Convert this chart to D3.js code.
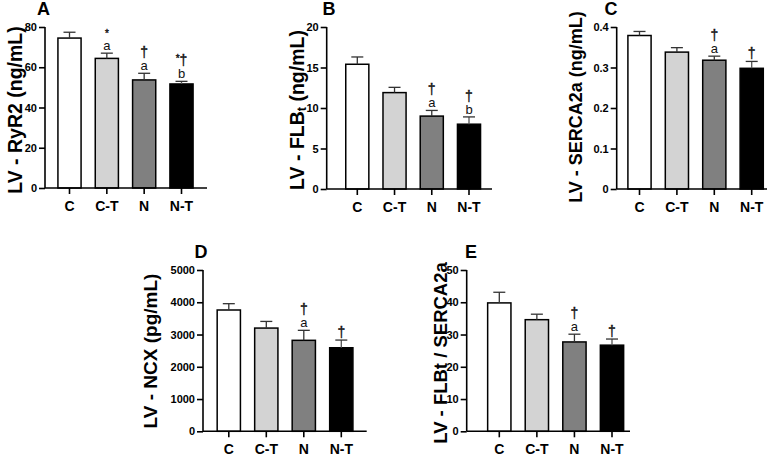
<!DOCTYPE html>
<html>
<head>
<meta charset="utf-8">
<script src="https://cdn.jsdelivr.net/npm/d3@7/dist/d3.min.js"></script>
<style>
html,body{margin:0;padding:0;background:#fff;}
svg{display:block;font-family:"Liberation Sans",Arial,Helvetica,sans-serif;}
</style>
</head>
<body>
<svg id="chart" width="779" height="456"></svg>
<script>
// ---------- data ----------
const categories = ["C", "C-T", "N", "N-T"];
const barColors = ["#ffffff", "#d3d3d3", "#808080", "#000000"];

const ryr2Mean = [74.5, 64.4, 53.7, 51.7];
const ryr2Err = [2.9, 2.6, 3.3, 1.3];
const ryr2Ticks = [0, 20, 40, 60, 80];
const ryr2Letters = ["", "a", "a", "b"];
const ryr2Marks = ["", "*", "†", "*†"];

const flbMean = [15.4, 11.9, 9.0, 8.0];
const flbErr = [0.9, 0.65, 0.7, 0.9];
const flbTicks = [0, 5, 10, 15, 20];
const flbLetters = ["", "", "a", "b"];
const flbMarks = ["", "", "†", "†"];

const sercaMean = [0.379, 0.338, 0.318, 0.298];
const sercaErr = [0.010, 0.011, 0.010, 0.017];
const sercaTicks = [0, 0.1, 0.2, 0.3, 0.4];
const sercaTickLabels = ["0", "0.1", "0.2", "0.3", "0.4"];
const sercaLetters = ["", "", "a", ""];
const sercaMarks = ["", "", "†", "†"];

const ncxMean = [3760, 3200, 2820, 2590];
const ncxErr = [196, 206, 310, 238];
const ncxTicks = [0, 1000, 2000, 3000, 4000, 5000];
const ncxLetters = ["", "", "a", ""];
const ncxMarks = ["", "", "†", "†"];

const ratioMean = [39.8, 34.6, 27.7, 26.7];
const ratioErr = [3.3, 1.7, 2.4, 1.9];
const ratioTicks = [0, 10, 20, 30, 40, 50];
const ratioLetters = ["", "", "a", ""];
const ratioMarks = ["", "", "†", "†"];

// ---------- layout ----------
const panels = [
  {letter:"A", mean:ryr2Mean, err:ryr2Err, ticks:ryr2Ticks, letters:ryr2Letters, marks:ryr2Marks,
   title:[{t:"LV - RyR2 (ng/mL)"}], ax:45, top:27, bottom:188, c0:69.5, c1:181.5, xEnd:207,
   titleX:15, titleY:110, titleSize:19.5, letterX:43.5, letterY:15},
  {letter:"B", mean:flbMean, err:flbErr, ticks:flbTicks, letters:flbLetters, marks:flbMarks,
   title:[{t:"LV - FLB"},{t:"t", sub:true},{t:" (ng/mL)"}], ax:326.7, top:27, bottom:189, c0:357.3, c1:469, xEnd:492,
   titleX:297, titleY:110, titleSize:19.5, letterX:329, letterY:15},
  {letter:"C", mean:sercaMean, err:sercaErr, ticks:sercaTicks, tickLabels:sercaTickLabels, letters:sercaLetters, marks:sercaMarks,
   title:[{t:"LV - SERCA2a (ng/mL)"}], ax:616.7, top:27, bottom:189, c0:639.5, c1:751.7, xEnd:767,
   titleX:576, titleY:107, titleSize:18, letterX:611, letterY:15},
  {letter:"D", mean:ncxMean, err:ncxErr, ticks:ncxTicks, letters:ncxLetters, marks:ncxMarks,
   title:[{t:"LV - NCX (pg/mL)"}], ax:203, top:270, bottom:431.3, c0:228.8, c1:341.3, xEnd:366.7,
   titleX:150, titleY:351, titleSize:19, letterX:201, letterY:258},
  {letter:"E", mean:ratioMean, err:ratioErr, ticks:ratioTicks, letters:ratioLetters, marks:ratioMarks,
   title:[{t:"LV - FLBt / SERCA2a"}], ax:466.7, top:270, bottom:431.3, c0:499.3, c1:612, xEnd:630,
   titleX:440, titleY:353, titleSize:18.5, letterX:471, letterY:258}
];

const svg = d3.select("#chart");

panels.forEach(p => {
  const g = svg.append("g");
  const y = d3.scaleLinear().domain([p.ticks[0], p.ticks[p.ticks.length-1]]).range([p.bottom, p.top]);
  const x = d3.scalePoint().domain(categories).range([p.c0, p.c1]);
  const bw = x.step() * 0.62;

  // bars
  g.selectAll("rect.bar").data(categories).enter().append("rect")
    .attr("x", d => x(d) - bw/2)
    .attr("y", (d,i) => y(p.mean[i]))
    .attr("width", bw)
    .attr("height", (d,i) => y(p.ticks[0]) - y(p.mean[i]))
    .attr("fill", (d,i) => barColors[i])
    .attr("stroke", "#000")
    .attr("stroke-width", 1.5);

  // error bars (upper only)
  categories.forEach((c,i) => {
    const top = y(p.mean[i] + p.err[i]);
    const base = y(p.mean[i]);
    g.append("line").attr("x1", x(c)).attr("x2", x(c)).attr("y1", base).attr("y2", top)
      .attr("stroke", i === 3 ? "#555" : "#333").attr("stroke-width", 1.3);
    g.append("line").attr("x1", x(c) - 6).attr("x2", x(c) + 6).attr("y1", top).attr("y2", top)
      .attr("stroke", "#333").attr("stroke-width", 1.3);

    // annotations
    let yy = top - 3;
    if (p.letters[i]) {
      g.append("text").attr("x", x(c)).attr("y", yy).attr("text-anchor", "middle")
        .attr("font-size", 13).attr("fill", "#111").text(p.letters[i]);
      yy -= 13;
    }
    if (p.marks[i]) {
      const t = g.append("text").attr("x", x(c)).attr("y", yy).attr("text-anchor", "middle")
        .attr("font-size", 14).attr("fill", "#111")
        .attr("stroke", "#111").attr("stroke-width", 0.35);
      const m = p.marks[i];
      if (m.includes("*")) {
        t.append("tspan").attr("font-size", 10).attr("dy", m === "*" ? 0 : -3).text("*");
        if (m.includes("†")) t.append("tspan").attr("dy", 3).text("†");
      } else {
        t.text(m);
      }
    }
  });

  // y axis
  const yAxis = d3.axisLeft(y).tickValues(p.ticks).tickSize(6).tickPadding(2)
    .tickFormat((d,i) => p.tickLabels ? p.tickLabels[i] : d3.format("d")(d));
  const ya = g.append("g").attr("transform", `translate(${p.ax},0)`).call(yAxis);
  ya.select(".domain").attr("stroke-width", 1.6).attr("d", `M0,${p.top}V${p.bottom}`);
  ya.selectAll(".tick line").attr("stroke-width", 1.6);
  ya.selectAll(".tick text").attr("font-size", 11).attr("font-weight", "bold")
    .attr("font-family", "Liberation Sans, Arial, sans-serif").attr("fill", "#000");

  // x axis
  const xa = g.append("g").attr("transform", `translate(0,${p.bottom})`);
  xa.append("line").attr("x1", p.ax).attr("x2", p.xEnd).attr("y1", 0).attr("y2", 0)
    .attr("stroke", "#000").attr("stroke-width", 1.6);
  categories.forEach(c => {
    xa.append("line").attr("x1", x(c)).attr("x2", x(c)).attr("y1", 0).attr("y2", 6)
      .attr("stroke", "#000").attr("stroke-width", 1.6);
    xa.append("text").attr("x", x(c)).attr("y", 23).attr("text-anchor", "middle")
      .attr("font-size", 14).attr("font-weight", "bold").text(c);
  });

  // y title
  const tt = g.append("text").attr("transform", `translate(${p.titleX},${p.titleY}) rotate(-90)`)
    .attr("text-anchor", "middle").attr("dominant-baseline", "central")
    .attr("font-size", p.titleSize).attr("font-weight", "bold");
  let shifted = false;
  p.title.forEach(s => {
    const ts = tt.append("tspan").text(s.t);
    if (s.sub) { ts.attr("font-size", p.titleSize * 0.65).attr("dy", 5); shifted = true; }
    else if (shifted) { ts.attr("dy", -5); shifted = false; }
  });

  // panel letter
  g.append("text").attr("x", p.letterX).attr("y", p.letterY).attr("text-anchor", "middle")
    .attr("font-size", 18).attr("font-weight", "bold").text(p.letter);
});
</script>
</body>
</html>
